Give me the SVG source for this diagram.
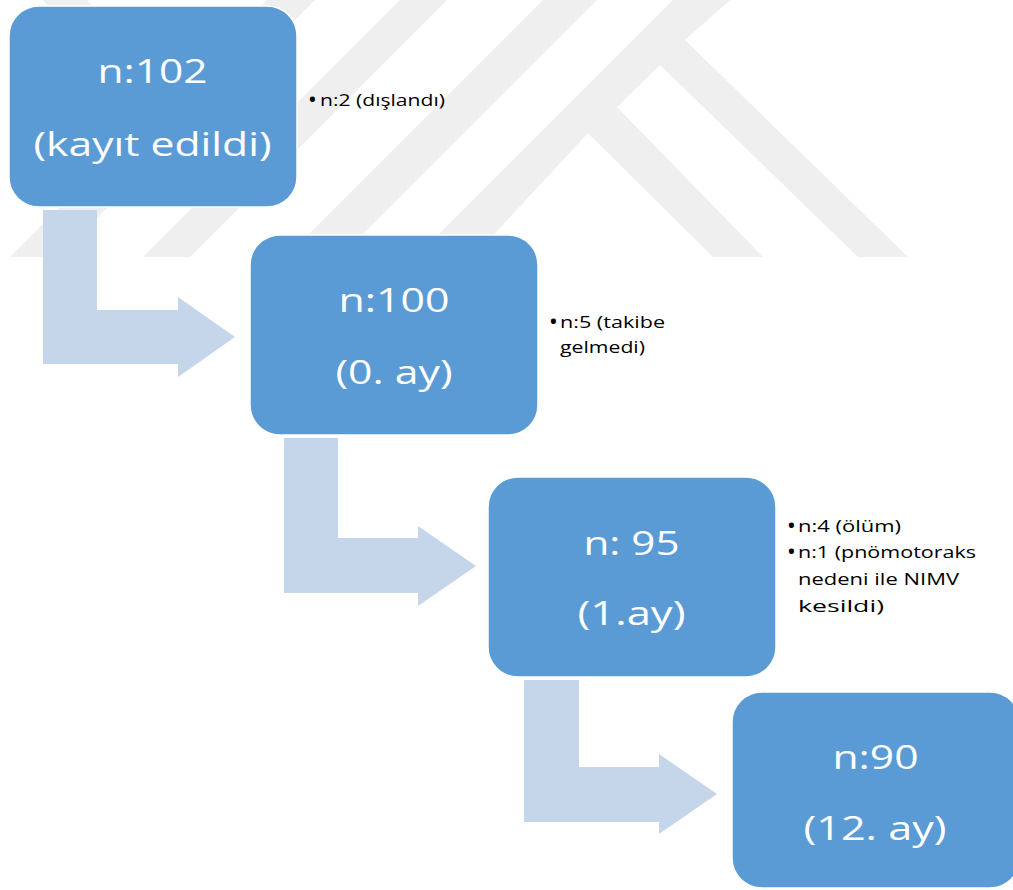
<svg xmlns="http://www.w3.org/2000/svg" width="1013" height="890" viewBox="0 0 1013 890">
<style>
.box{fill:#5B9BD5;stroke:#FFFFFF;stroke-width:1.5}
.arr{fill:#C5D5EA}
.wm{fill:#EFEFEF}
.big{font-family:"Open Sans","Noto Sans",sans-serif;font-size:32px;fill:#FFFFFF;text-anchor:middle}
.sm{font-family:"Open Sans","Noto Sans",sans-serif;font-size:17px;fill:#000000}
.bul{font-family:"Open Sans","Noto Sans",sans-serif;font-size:18px;font-weight:700;fill:#000000}
</style>
<rect x="0" y="0" width="1013" height="890" fill="#FFFFFF"/>
<g id="watermark">
<polygon class="wm" points="673,0 730,0 685,40 908,257 858,257 660,65 617,107 763,257 713,257 588,133 473,257 416,257"/>
<polygon class="wm" points="543,0 597,0 340,257 286,257"/>
<polygon class="wm" points="400,0 447,0 190,257 143,257"/>
<polygon class="wm" points="267,0 315,0 58,257 10,257"/>
<polygon class="wm" points="43,0 87,0 94,8 50,8"/>
</g>
<g id="connectors">
<polygon class="arr" points="43,210 97,210 97,310 178,310 178,297 235,337 178,377 178,364 43,364"/>
<polygon class="arr" points="284,438 338,438 338,538 418,538 418,526 476,566 418,606 418,593 284,593"/>
<polygon class="arr" points="524,680 579,680 579,767 659,767 659,754 717,794 659,834 659,822 524,822"/>
</g>
<g id="node1">
<rect class="box" x="9" y="6" width="288" height="201" rx="30"/>
<text class="big" x="152.5" y="83" textLength="110" lengthAdjust="spacingAndGlyphs">n:102</text>
<text class="big" x="152.5" y="156" textLength="238" lengthAdjust="spacingAndGlyphs">(kayıt edildi)</text>
</g>
<g id="node2">
<rect class="box" x="250" y="235" width="288" height="200" rx="30"/>
<text class="big" x="394" y="312" textLength="111" lengthAdjust="spacingAndGlyphs">n:100</text>
<text class="big" x="394" y="384" textLength="117" lengthAdjust="spacingAndGlyphs">(0. ay)</text>
</g>
<g id="node3">
<rect class="box" x="488" y="477" width="288" height="200" rx="30"/>
<text class="big" x="631.5" y="555" textLength="96" lengthAdjust="spacingAndGlyphs">n: 95</text>
<text class="big" x="631.5" y="625" textLength="108" lengthAdjust="spacingAndGlyphs">(1.ay)</text>
</g>
<g id="node4">
<rect class="box" x="732" y="692" width="288" height="196" rx="30"/>
<text class="big" x="875.5" y="769" textLength="86" lengthAdjust="spacingAndGlyphs">n:90</text>
<text class="big" x="875" y="840" textLength="143" lengthAdjust="spacingAndGlyphs">(12. ay)</text>
</g>
<g id="note1">
<text class="bul" x="309" y="106">•</text>
<text class="sm" x="320" y="106" textLength="125" lengthAdjust="spacingAndGlyphs">n:2 (dışlandı)</text>
</g>
<g id="note2">
<text class="bul" x="550" y="328">•</text>
<text class="sm" x="560" y="328" textLength="105" lengthAdjust="spacingAndGlyphs">n:5 (takibe</text>
<text class="sm" x="560" y="353" textLength="85" lengthAdjust="spacingAndGlyphs">gelmedi)</text>
</g>
<g id="note3">
<text class="bul" x="788" y="532">•</text>
<text class="bul" x="788" y="558">•</text>
<text class="sm" x="798" y="532" textLength="103" lengthAdjust="spacingAndGlyphs">n:4 (ölüm)</text>
<text class="sm" x="798" y="558" textLength="178" lengthAdjust="spacingAndGlyphs">n:1 (pnömotoraks</text>
<text class="sm" x="798" y="585" textLength="161" lengthAdjust="spacingAndGlyphs">nedeni ile NIMV</text>
<text class="sm" x="798" y="612" textLength="86" lengthAdjust="spacingAndGlyphs">kesildi)</text>
</g>
</svg>
